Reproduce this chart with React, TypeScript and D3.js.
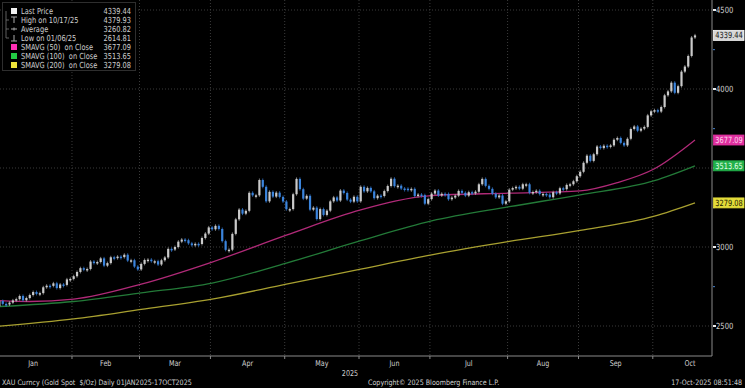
import * as d3 from 'd3';
import React from 'react';

// daily closes (gold spot), one array per month, weekdays only
const jan = [2625, 2658, 2640, 2636, 2648, 2662, 2670, 2690, 2663, 2677, 2696, 2715, 2703, 2708, 2745, 2755, 2754, 2770, 2740, 2763, 2760, 2795, 2798];
const feb = [2815, 2842, 2866, 2856, 2861, 2908, 2898, 2905, 2928, 2882, 2898, 2935, 2933, 2939, 2936, 2951, 2914, 2916, 2876, 2858];
const mar = [2893, 2918, 2920, 2910, 2910, 2889, 2916, 2934, 2988, 2984, 3000, 3034, 3047, 3043, 3023, 3011, 3020, 3019, 3057, 3085, 3124];
const apr = [3112, 3134, 3114, 3037, 2982, 2983, 3083, 3175, 3237, 3211, 3229, 3343, 3327, 3327, 3424, 3381, 3289, 3349, 3319, 3344, 3317, 3288];
const may = [3239, 3240, 3334, 3431, 3366, 3306, 3324, 3236, 3249, 3177, 3240, 3203, 3230, 3289, 3314, 3294, 3357, 3342, 3300, 3287, 3318, 3289];
const jun = [3381, 3352, 3374, 3352, 3309, 3325, 3323, 3354, 3386, 3432, 3385, 3388, 3370, 3369, 3368, 3368, 3323, 3332, 3328, 3274, 3303];
const jul = [3338, 3357, 3326, 3337, 3336, 3302, 3313, 3325, 3355, 3343, 3325, 3347, 3339, 3350, 3397, 3431, 3387, 3368, 3337, 3314, 3326, 3274, 3289];
const aug = [3363, 3373, 3381, 3369, 3397, 3397, 3343, 3348, 3356, 3335, 3336, 3332, 3315, 3347, 3339, 3372, 3366, 3393, 3397, 3416, 3448];
const sep = [3476, 3533, 3578, 3545, 3587, 3636, 3626, 3641, 3634, 3643, 3679, 3690, 3659, 3643, 3685, 3747, 3763, 3736, 3749, 3760, 3833, 3859];
const oct = [3866, 3857, 3886, 3960, 3985, 4040, 3976, 4018, 4110, 4142, 4209, 4326, 4339.44];
const firstOpen = 2624;

const monthNames = ['Jan', 'Feb', 'Mar', 'Apr', 'May', 'Jun', 'Jul', 'Aug', 'Sep', 'Oct'];
const monthCloses = [jan, feb, mar, apr, may, jun, jul, aug, sep, oct];

// moving averages at some trading-day indices
const sma50Idx = [0, 10, 23, 43, 64, 86, 108, 129, 152, 173, 184, 195, 207];
const sma50 = [2662, 2655, 2670, 2765, 2905, 3075, 3235, 3325, 3341, 3355, 3407, 3495, 3677.09];
const smaIdx = [0, 23, 43, 64, 86, 108, 129, 152, 173, 195, 207];
const sma100 = [2622, 2655, 2710, 2772, 2898, 3040, 3165, 3255, 3330, 3420, 3513.65];
const sma200 = [2497, 2545, 2605, 2670, 2765, 2860, 2950, 3035, 3105, 3195, 3279.08];

const yGrid = [2500, 3000, 3500, 4000, 4500];
const yLabels = [2500, 3000, 4000, 4500];
const yMinor = [2750, 3250, 3750, 4250];

const legendLabels = ['Last Price', 'High on 10/17/25', 'Average', 'Low on 01/06/25', 'SMAVG (50)  on Close', 'SMAVG (100)  on Close', 'SMAVG (200)  on Close'];
const legendValues = ['4339.44', '4379.93', '3260.82', '2614.81', '3677.09', '3513.65', '3279.08'];

const W = 745, H = 388;
const plotR = 712, plotB = 356;
const font = "'DejaVu Sans', 'Liberation Sans', sans-serif";
const txt = '#d0d0d0';
const cMag = '#b02a78', cGrn = '#237a38', cYel = '#a8a030';

// narrow text: Bloomberg uses a condensed face, squeeze horizontally
function T({ x, y, size, fill = txt, anchor = 'start', sx = 0.8, children }: any) {
  return (
    <text transform={`translate(${x},${y}) scale(${sx},1)`} fontSize={size} fill={fill} textAnchor={anchor}
      dy="0.35em" style={{ whiteSpace: 'pre' }}>{children}</text>
  );
}

export default function App() {
  const closes = monthCloses.flat();
  const n = closes.length;
  const x = d3.scaleLinear().domain([0, n - 1]).range([-4, 695]);
  const step = x(1) - x(0);
  const y = d3.scaleLinear().domain([2500, 4500]).range([326, 10]);

  const candles = closes.map((c, i) => ({ i, o: i === 0 ? firstOpen : closes[i - 1], c }));

  // month start indices
  const starts: number[] = [];
  let acc = 0;
  monthCloses.forEach(m => { starts.push(acc); acc += m.length; });
  const bounds = starts.map(s => x(s) - step / 2);
  const lastBound = x(starts[starts.length - 1] + 22) - step / 2;

  const line = d3.line<[number, number]>().x(d => x(d[0])).y(d => y(d[1])).curve(d3.curveMonotoneX);
  const l50 = line(sma50Idx.map((k, j) => [k, sma50[j]]));
  const l100 = line(smaIdx.map((k, j) => [k, sma100[j]]));
  const l200 = line(smaIdx.map((k, j) => [k, sma200[j]]));

  const boxes = [
    { v: 4339.44, fill: '#d6d6d6', tc: '#1a1a1a' },
    { v: 3677.09, fill: '#e0309f', tc: '#ffd6ef' },
    { v: 3513.65, fill: '#22b04a', tc: '#e2ffe8' },
    { v: 3279.08, fill: '#e3dc3a', tc: '#1a1a00' },
  ];

  const legendIcon = (k: number, cy: number) => {
    if (k === 0) return <rect x={11} y={cy - 3} width={6} height={6} fill="#f0f0f0" />;
    if (k === 1) return <g stroke="#aaa" strokeWidth={1}><line x1={11} x2={17} y1={cy - 3} y2={cy - 3} /><line x1={14} x2={14} y1={cy - 3} y2={cy + 3} /></g>;
    if (k === 2) return <g stroke="#aaa" strokeWidth={1}><line x1={11} x2={17} y1={cy} y2={cy} /><line x1={14} x2={14} y1={cy - 1.5} y2={cy + 1.5} /></g>;
    if (k === 3) return <g stroke="#aaa" strokeWidth={1}><line x1={11} x2={17} y1={cy + 3} y2={cy + 3} /><line x1={14} x2={14} y1={cy - 3} y2={cy + 3} /></g>;
    const col = ['#ff2fb4', '#22cc44', '#eee43a'][k - 4];
    return <rect x={11} y={cy - 3} width={6} height={6} fill={col} />;
  };

  return (
    <svg width={W} height={H} style={{ position: 'absolute', left: 0, top: 0, background: '#000', fontFamily: font }}>
      <rect x={0} y={0} width={W} height={H} fill="#000" />
      <defs>
        <clipPath id="plot"><rect x={0} y={0} width={plotR} height={plotB} /></clipPath>
      </defs>

      {/* grid */}
      <g stroke="#4a4a4a" strokeWidth={0.8} strokeDasharray="1,2">
        {yGrid.map(v => <line key={v} x1={0} x2={plotR} y1={y(v)} y2={y(v)} />)}
        {bounds.slice(1).map((b, j) => <line key={j} x1={b} x2={b} y1={0} y2={plotB} />)}
      </g>

      <g clipPath="url(#plot)">
        <path d={l200 || ''} fill="none" stroke={cYel} strokeWidth={1.3} />
        <path d={l100 || ''} fill="none" stroke={cGrn} strokeWidth={1.3} />
        <path d={l50 || ''} fill="none" stroke={cMag} strokeWidth={1.3} />
        {candles.map(d => {
          const up = d.c >= d.o;
          const y0 = Math.min(y(d.o), y(d.c));
          const h = Math.max(1.5, Math.abs(y(d.o) - y(d.c)));
          const cx = x(d.i);
          return (
            <g key={d.i}>
              <line x1={cx} x2={cx} y1={y0 - 1.5} y2={y0 + h + 1.5} stroke={up ? '#9a9a9a' : '#2f6fc0'} strokeWidth={0.8} />
              <rect x={cx - 1.1} y={y0} width={2.2} height={h} fill={up ? '#cacaca' : '#3b84dc'} />
            </g>
          );
        })}
      </g>

      {/* axes */}
      <line x1={plotR} x2={plotR} y1={0} y2={plotB} stroke="#8a8a8a" strokeWidth={1} />
      <line x1={0} x2={plotR} y1={plotB} y2={plotB} stroke="#8a8a8a" strokeWidth={1} />
      {bounds.slice(1).map((b, j) => <line key={j} x1={b} x2={b} y1={plotB} y2={plotB + 3} stroke="#8a8a8a" />)}
      {yGrid.map(v => <rect key={v} x={plotR + 1} y={y(v) - 1} width={3} height={2} fill="#eee" />)}
      {yMinor.map(v => <rect key={v} x={plotR + 1} y={y(v) - 0.5} width={2} height={1.2} fill="#3b6fb0" />)}
      {yLabels.map(v => <T key={v} x={716} y={y(v)} size={8.5}>{String(v)}</T>)}
      {boxes.map(b => (
        <g key={b.v}>
          <rect x={713.5} y={y(b.v) - 5} width={30.5} height={10} fill={b.fill} stroke={b.fill === '#d6d6d6' ? '#fff' : b.fill} strokeWidth={0.8} />
          <T x={715.3} y={y(b.v)} size={8.5} fill={b.tc} sx={0.78}>{b.v.toFixed(2)}</T>
        </g>
      ))}

      {/* month labels */}
      {monthNames.map((m, j) => {
        const b0 = bounds[j];
        const b1 = j < bounds.length - 1 ? bounds[j + 1] : lastBound;
        return <T key={m} x={(b0 + b1) / 2} y={363} anchor="middle" size={8}>{m}</T>;
      })}
      <T x={350} y={373} anchor="middle" size={8}>2025</T>

      {/* footer */}
      <T x={2} y={382} size={7.5} sx={0.85}>{'XAU Curncy (Gold Spot  $/Oz) Daily 01JAN2025-17OCT2025'}</T>
      <T x={368} y={382} size={7.5} sx={0.85}>{'Copyright© 2025 Bloomberg Finance L.P.'}</T>
      <T x={742} y={382} anchor="end" size={7.5} sx={0.85}>{'17-Oct-2025 08:51:48'}</T>

      {/* legend */}
      <rect x={2.5} y={2.5} width={133} height={68} fill="#000" stroke="#2e2e2e" strokeWidth={1} />
      <g stroke="#777" strokeWidth={0.8}>
        <line x1={6} x2={6} y1={11} y2={38} />
        {[20, 29, 38].map(v => <line key={v} x1={6} x2={9} y1={v} y2={v} />)}
      </g>
      {legendLabels.map((l, k) => {
        const cy = 11 + k * 9;
        return (
          <g key={l}>
            {legendIcon(k, cy)}
            <T x={21} y={cy} size={8.3}>{l}</T>
            <T x={131} y={cy} anchor="end" size={8.3}>{legendValues[k]}</T>
          </g>
        );
      })}
    </svg>
  );
}
